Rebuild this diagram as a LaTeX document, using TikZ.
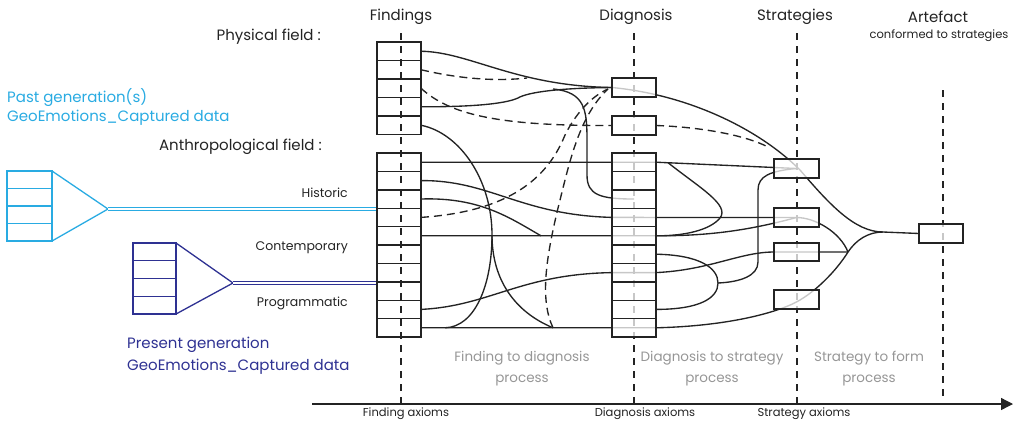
\documentclass[tikz,border=0pt]{standalone}
\usepackage{fontspec}
\setmainfont{Poppins}
\usetikzlibrary{arrows.meta,calc}
\definecolor{cyanc}{RGB}{41,171,226}
\definecolor{navyc}{RGB}{46,49,146}
\definecolor{ink}{RGB}{35,35,35}
\definecolor{procgray}{RGB}{150,150,150}
\pgfdeclarelayer{back}
\pgfsetlayers{back,main}
\begin{document}
\begin{tikzpicture}[x=1pt,y=-1pt,
  cellbox/.style={draw=ink, line width=1.4pt, minimum width=44pt, minimum height=18.4pt, inner sep=0pt, outer sep=0pt},
  veil/.style={cellbox, fill=white, fill opacity=0.75},
  cyancell/.style={draw=cyanc, line width=1.3pt, minimum width=45pt, minimum height=17.5pt, inner sep=0pt, outer sep=0pt},
  navycell/.style={draw=navyc, line width=1.3pt, minimum width=43pt, minimum height=17.75pt, inner sep=0pt, outer sep=0pt},
  conn/.style={draw=ink, line width=1.35pt},
  dconn/.style={conn, dash pattern=on 8pt off 5pt},
  axisdash/.style={draw=ink, line width=1.3pt, dash pattern=on 7pt off 6pt},
  lab/.style={text=ink, inner sep=0pt, font=\fontsize{15}{18}\selectfont},
  midlab/.style={text=ink, inner sep=0pt, font=\fontsize{12.5}{15}\selectfont},
  proclab/.style={text=procgray, inner sep=0pt, font=\fontsize{13.5}{16}\selectfont},
  smalllab/.style={text=ink, inner sep=0pt, font=\fontsize{11.5}{14}\selectfont}]
\useasboundingbox (0,0) rectangle (1016,424);

% ---------- boxes ----------
\foreach \i in {1,...,5} \node[cellbox, minimum height=18.5pt] (fp\i) at (399,{42+18.5*(\i-0.5)}) {};
\foreach \i in {1,...,10} \node[cellbox] (f\i) at (399,{153+18.4*(\i-0.5)}) {};
\foreach \i in {1,...,10} \node[veil] (d\i) at (634,{153+18.4*(\i-0.5)}) {};
\node[veil, minimum height=19pt] (db1) at (634,87.5) {};
\node[veil, minimum height=19pt] (db2) at (634,125.5) {};
\node[veil, minimum width=45pt, minimum height=19pt] (s1) at (796.5,168.5) {};
\node[veil, minimum width=45pt, minimum height=19pt] (s2) at (796.5,217.5) {};
\node[veil, minimum width=45pt, minimum height=18pt] (s3) at (796.5,252) {};
\node[veil, minimum width=45pt, minimum height=19pt] (s4) at (796.5,299.5) {};
\node[veil, minimum height=19pt] (art) at (941,233.5) {};

\foreach \i in {1,...,4} \node[cyancell] (c\i) at (29.5,{171+17.5*(\i-0.5)}) {};
\foreach \i in {1,...,4} \node[navycell] (n\i) at (154.5,{243+17.75*(\i-0.5)}) {};

% ---------- helper coordinates ----------
\coordinate (ctip) at (108,209);
\coordinate (ntip) at (233,283);
\coordinate (K) at (848,252);
\coordinate (J) at (883,232);
\coordinate (b4) at (553,89);
\coordinate (p2e) at (527,78);
\coordinate (l1) at (668,162.7);
\coordinate (tip) at (718,283);
\coordinate (j6) at (553,327.8);
\coordinate (jl) at (445,327.8);
\coordinate (tr) at (492,235);
\coordinate (l3e) at (541,235.8);
\coordinate (dtop) at (608,89);
\coordinate (db2e) at (768,147);

\begin{pgfonlayer}{back}
% axes
\draw[axisdash] (401,33) -- (401,404);
\draw[axisdash] (634,33) -- (634,404);
\draw[axisdash] (797,33) -- (797,404);
\draw[axisdash] (943,90) -- (943,400);
\draw[draw=ink, line width=1.3pt, -{Triangle[length=12pt,width=12pt]}] (312,404) -- (1013,404);

% physical field
\draw[conn] (fp1.east) .. controls (470,52) and (515,86) .. (db1.west);
\draw[dconn] (fp2.east) .. controls (465,80) and (500,81) .. (p2e);
\draw[dconn] (fp3.east) .. controls (450,115) and (500,126) .. (db2.west);
\draw[conn] (fp4.east) .. controls (470,107) and (505,104) .. (518,98) .. controls (528,92) and (560,88) .. (db1.west);
\draw[conn] (b4) .. controls (585,92) and (587,110) .. (587,140) -- (587,175) .. controls (587,195) and (600,199) .. (d3.center);
\draw[conn] (fp5.east) .. controls (460,133) and (492,180) .. (tr);
\draw[conn] (tr) .. controls (492,285) and (475,327) .. (jl);
\draw[conn] (tr) .. controls (492,280) and (515,312) .. (j6);

% anthropological field
\draw[conn] (f1.east) -- (d1.east) -- (s1.center);
\draw[conn] (f2.east) .. controls (490,180) and (520,215) .. (d4.west) -- (s2.center);
\draw[conn] (f3.east) .. controls (480,197) and (510,218) .. (l3e);
\draw[conn] (f5.east) -- (d5.east) .. controls (710,236) and (750,230) .. (s2.center);
\draw[conn] (f9.east) .. controls (490,306) and (520,274) .. (d7.west) -- (d7.east) .. controls (710,270) and (740,252) .. (s3.west) -- (K);
\draw[conn] (f10.east) -- (d10.east) .. controls (730,326) and (780,312) .. (800,300) .. controls (820,288) and (838,268) .. (K);
\draw[dconn] (f4.east) .. controls (500,212) and (545,185) .. (565,135) .. controls (575,115) and (590,97) .. (dtop);
\draw[dconn] (j6) .. controls (540,300) and (545,260) .. (560,200) .. controls (570,160) and (580,115) .. (dtop);

% diagnosis to strategies
\draw[conn] (db1.west) .. controls (690,95) and (760,130) .. (800,170) .. controls (830,205) and (855,232) .. (J) -- (art.west);
\draw[dconn] (db2.east) .. controls (700,127) and (745,135) .. (db2e);
\draw[conn] (l1) .. controls (700,188) and (730,205) .. (720,218) .. controls (710,230) and (685,236) .. (d5.east);
\draw[conn] (d6.east) .. controls (700,255) and (718,268) .. (tip) .. controls (718,298) and (700,309.4) .. (d9.east);
\draw[conn] (tip) .. controls (740,282) and (758,276) .. (758,262) -- (758,190) .. controls (758,176) and (770,171) .. (s1.center);
\draw[conn] (s2.center) .. controls (815,217.5) and (840,232) .. (K);
\draw[conn] (K) .. controls (856,240) and (868,232) .. (J);

% generations
\draw[draw=cyanc, line width=1.3pt] (c1.north east) -- (ctip) -- (c4.south east);
\draw[draw=cyanc, line width=1pt, double=white, double distance=1.4pt] (ctip) -- (ctip -| f1.west);
\draw[draw=navyc, line width=1.3pt] (n1.north east) -- (ntip) -- (n4.south east);
\draw[draw=navyc, line width=1pt, double=white, double distance=1.4pt] (ntip) -- (ntip -| f1.west);
\end{pgfonlayer}

% ---------- texts ----------
\node[lab] (tFind) at (401,17) {Findings};
\node[lab] (tDiag) at (636,17) {Diagnosis};
\node[lab] (tStrat) at (795,17) {Strategies};
\node[lab] (tArt) at (938,17) {Artefact};
\node[smalllab] (tConf) at (939,36) {conformed to strategies};
\node[lab, anchor=east] (tPhys) at (321,37) {Physical field :};
\node[lab, anchor=east] (tAnth) at (322,147) {Anthropological field :};
\node[midlab, anchor=east] (tHist) at (348,193) {Historic};
\node[midlab, anchor=east] (tCont) at (348,248) {Contemporary};
\node[midlab, anchor=east] (tProg) at (348,303) {Programmatic};
\node[lab, text=cyanc, anchor=west] (tPast1) at (7,98) {Past generation(s)};
\node[lab, text=cyanc, anchor=west] (tPast2) at (7,118) {GeoEmotions\_Captured data};
\node[lab, text=navyc, anchor=west] (tPres1) at (127,345) {Present generation};
\node[lab, text=navyc, anchor=west] (tPres2) at (127,367) {GeoEmotions\_Captured data};
\node[proclab] (tP1a) at (522,358) {Finding to diagnosis};
\node[proclab] (tP1b) at (522,380) {process};
\node[proclab] (tP2a) at (712,358) {Diagnosis to strategy};
\node[proclab] (tP2b) at (712,380) {process};
\node[proclab] (tP3a) at (869,358) {Strategy to form};
\node[proclab] (tP3b) at (869,380) {process};
\node[smalllab] (tAx1) at (406,414) {Finding axioms};
\node[smalllab] (tAx2) at (645,414) {Diagnosis axioms};
\node[smalllab] (tAx3) at (804,414) {Strategy axioms};
\end{tikzpicture}
\end{document}
